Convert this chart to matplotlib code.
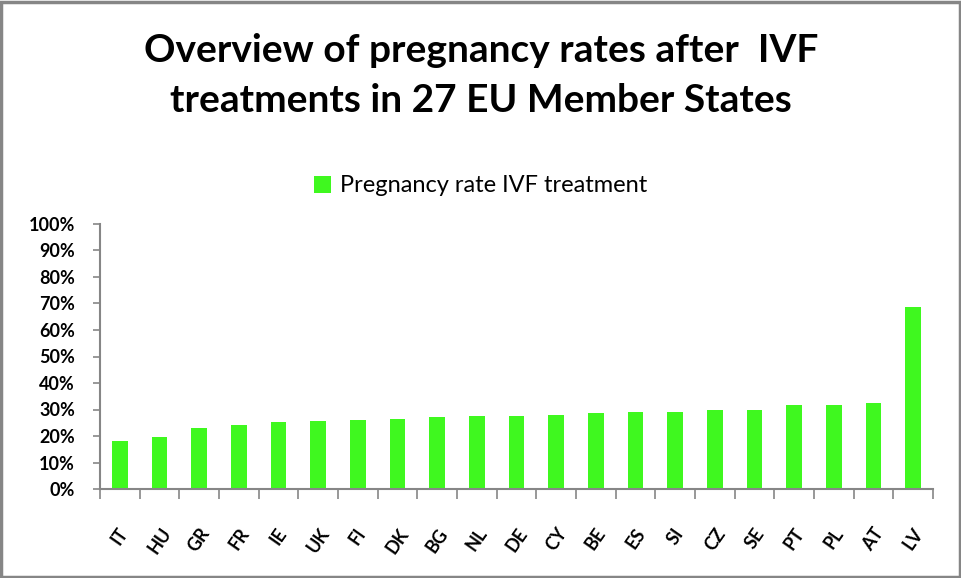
import numpy as np
import matplotlib.pyplot as plt
from matplotlib.patches import Rectangle

countries = ['IT', 'HU', 'GR', 'FR', 'IE', 'UK', 'FI', 'DK', 'BG', 'NL', 'DE',
             'CY', 'BE', 'ES', 'SI', 'CZ', 'SE', 'PT', 'PL', 'AT', 'LV']
rates = [18.3, 19.8, 23.2, 24.0, 25.1, 25.5, 25.9, 26.6, 27.0, 27.4, 27.4,
         27.8, 28.5, 28.9, 29.2, 29.9, 29.9, 31.8, 31.8, 32.6, 68.6]
yticks = list(range(0, 101, 10))

GREEN = '#3ff81f'
GREY = '#868686'
plt.rcParams['font.family'] = ['Lato', 'DejaVu Sans']

fig = plt.figure(figsize=(9.62, 5.78), dpi=100)
ax = fig.add_axes([100 / 962, 1 - 489 / 578, 833 / 962, 265 / 578])

x = np.arange(len(countries))
ax.bar(x, rates, width=0.4, color=GREEN, label='Pregnancy rate IVF treatment')
ax.set_xlim(-0.5, len(countries) - 0.5)
ax.set_ylim(0, 100)

ax.set_yticks(yticks)
ax.set_yticklabels([f'{v}%' for v in yticks], fontsize=13, fontweight='bold')
ax.set_xticks(x)
ax.set_xticklabels(countries, rotation=55, fontsize=13, fontweight='bold',
                   ha='center', va='top')
ax.set_xticks(np.arange(-0.5, len(countries)), minor=True)
ax.tick_params(axis='x', which='major', length=0, pad=26)
ax.tick_params(axis='x', which='minor', length=7, color=GREY, width=1.2)
ax.tick_params(axis='y', length=5, color=GREY, width=1.2, pad=13)

for s in ['top', 'right']:
    ax.spines[s].set_visible(False)
for s in ['left', 'bottom']:
    ax.spines[s].set_color(GREY)
    ax.spines[s].set_linewidth(1.5)

fig.text(0.5, 1 - 50 / 578, 'Overview of pregnancy rates after  IVF',
         ha='center', va='center', fontsize=28, fontweight='bold')
fig.text(0.5, 1 - 101 / 578, 'treatments in 27 EU Member States',
         ha='center', va='center', fontsize=28, fontweight='bold')

ax.legend(loc='center', bbox_to_anchor=(0.5, 1 - 186 / 578), bbox_transform=fig.transFigure,
          frameon=False, fontsize=17, handlelength=0.7, handleheight=0.7, handletextpad=0.4)

fig.patches.append(Rectangle((0.001, 0.002), 0.997, 0.995, transform=fig.transFigure,
                             fill=False, edgecolor=GREY, linewidth=2.5))

fig.savefig('out.png', dpi=100)
